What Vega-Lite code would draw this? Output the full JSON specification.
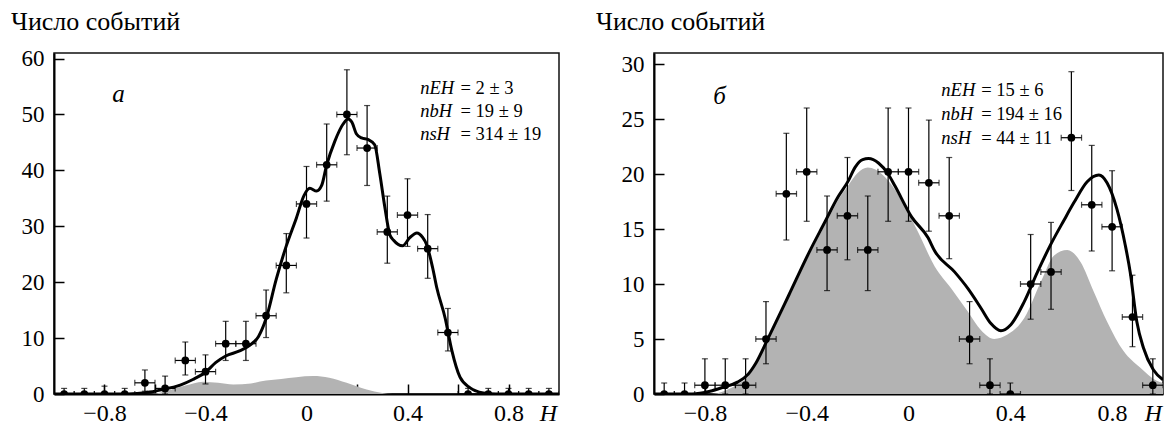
{
  "$schema": "https://vega.github.io/schema/vega-lite/v6.json",
  "padding": {"left": 10, "top": 7, "right": 0, "bottom": 0},
  "spacing": 35,
  "background": "white",
  "config": {
    "font": "Liberation Serif",
    "view": {"stroke": "#111", "strokeWidth": 1.5},
    "axis": {"grid": false, "domainColor": "black", "domainWidth": 2, "tickColor": "black", "tickWidth": 1.5, "labelColor": "black", "labelFlush": false, "labelOverlap": false, "titleColor": "black", "labelFont": "Liberation Serif", "titleFont": "Liberation Serif"},
    "text": {"font": "Liberation Serif"},
    "title": {"color": "black", "fontWeight": "normal", "fontSize": 26, "anchor": "start", "frame": "group", "font": "Liberation Serif"}
  },
  "datasets": {
    "ptsA": [
      {"H": -0.96, "h0": -1.0, "h1": -0.92, "n": 0, "lo": 0, "hi": 1.0},
      {"H": -0.88, "h0": -0.92, "h1": -0.84, "n": 0, "lo": 0, "hi": 1.0},
      {"H": -0.80, "h0": -0.84, "h1": -0.76, "n": 0, "lo": 0, "hi": 1.4},
      {"H": -0.72, "h0": -0.76, "h1": -0.68, "n": 0, "lo": 0, "hi": 1.0},
      {"H": -0.64, "h0": -0.68, "h1": -0.60, "n": 2, "lo": 0.5, "hi": 4.3},
      {"H": -0.56, "h0": -0.60, "h1": -0.52, "n": 1, "lo": 0, "hi": 3.2},
      {"H": -0.48, "h0": -0.52, "h1": -0.44, "n": 6, "lo": 3.4, "hi": 9.3},
      {"H": -0.40, "h0": -0.44, "h1": -0.36, "n": 4, "lo": 1.8, "hi": 7.0},
      {"H": -0.32, "h0": -0.36, "h1": -0.28, "n": 9, "lo": 6.0, "hi": 13.0},
      {"H": -0.24, "h0": -0.28, "h1": -0.20, "n": 9, "lo": 6.0, "hi": 13.0},
      {"H": -0.16, "h0": -0.20, "h1": -0.12, "n": 14, "lo": 10.1, "hi": 18.6},
      {"H": -0.08, "h0": -0.12, "h1": -0.04, "n": 23, "lo": 18.1, "hi": 28.7},
      {"H": 0.00, "h0": -0.04, "h1": 0.04, "n": 34, "lo": 27.9, "hi": 40.7},
      {"H": 0.08, "h0": 0.04, "h1": 0.12, "n": 41, "lo": 34.5, "hi": 48.3},
      {"H": 0.16, "h0": 0.12, "h1": 0.20, "n": 50, "lo": 42.8, "hi": 58.0},
      {"H": 0.24, "h0": 0.20, "h1": 0.28, "n": 44, "lo": 37.3, "hi": 51.6},
      {"H": 0.32, "h0": 0.28, "h1": 0.36, "n": 29, "lo": 23.4, "hi": 35.4},
      {"H": 0.40, "h0": 0.36, "h1": 0.44, "n": 32, "lo": 26.4, "hi": 38.5},
      {"H": 0.48, "h0": 0.44, "h1": 0.52, "n": 26, "lo": 20.7, "hi": 32.1},
      {"H": 0.56, "h0": 0.52, "h1": 0.60, "n": 11, "lo": 7.7, "hi": 15.3},
      {"H": 0.64, "h0": 0.60, "h1": 0.68, "n": 0, "lo": 0, "hi": 1.0},
      {"H": 0.72, "h0": 0.68, "h1": 0.76, "n": 0, "lo": 0, "hi": 1.0},
      {"H": 0.80, "h0": 0.76, "h1": 0.84, "n": 0, "lo": 0, "hi": 1.0},
      {"H": 0.88, "h0": 0.84, "h1": 0.92, "n": 0, "lo": 0, "hi": 1.0},
      {"H": 0.96, "h0": 0.92, "h1": 1.0, "n": 0, "lo": 0, "hi": 1.0}
    ],
    "curveA": [
      {"H": -1.0, "N": 0}, {"H": -0.72, "N": 0}, {"H": -0.65, "N": 0.2}, {"H": -0.6, "N": 0.5},
      {"H": -0.57, "N": 0.8}, {"H": -0.5, "N": 1.6}, {"H": -0.45, "N": 2.6}, {"H": -0.4, "N": 3.9},
      {"H": -0.36, "N": 5.6}, {"H": -0.32, "N": 6.8}, {"H": -0.265, "N": 7.7}, {"H": -0.225, "N": 8.7},
      {"H": -0.19, "N": 10.3}, {"H": -0.16, "N": 13.5}, {"H": -0.12, "N": 20.5}, {"H": -0.08, "N": 26.5},
      {"H": -0.04, "N": 31.5}, {"H": -0.01, "N": 35.5}, {"H": 0.013, "N": 36.8}, {"H": 0.04, "N": 36.3},
      {"H": 0.06, "N": 37.3}, {"H": 0.08, "N": 41}, {"H": 0.112, "N": 45.2}, {"H": 0.145, "N": 48.3},
      {"H": 0.165, "N": 49.2}, {"H": 0.18, "N": 48.6}, {"H": 0.198, "N": 46.5}, {"H": 0.218, "N": 45.8},
      {"H": 0.245, "N": 45.5}, {"H": 0.27, "N": 44.6}, {"H": 0.29, "N": 39.5}, {"H": 0.31, "N": 33.5},
      {"H": 0.33, "N": 28.5}, {"H": 0.345, "N": 27.5}, {"H": 0.38, "N": 26.5}, {"H": 0.41, "N": 28},
      {"H": 0.437, "N": 28.8}, {"H": 0.46, "N": 28}, {"H": 0.476, "N": 26.7}, {"H": 0.5, "N": 22.5},
      {"H": 0.516, "N": 19.0}, {"H": 0.549, "N": 13.6}, {"H": 0.575, "N": 7.9}, {"H": 0.608, "N": 3.0},
      {"H": 0.648, "N": 1.1}, {"H": 0.7, "N": 0.2}, {"H": 0.75, "N": 0}, {"H": 1.0, "N": 0}
    ],
    "bgA": [
      {"H": -1.0, "N": 0}, {"H": -0.62, "N": 0}, {"H": -0.55, "N": 0.6}, {"H": -0.48, "N": 1.5},
      {"H": -0.41, "N": 2.2}, {"H": -0.35, "N": 2.0}, {"H": -0.29, "N": 1.7}, {"H": -0.22, "N": 1.9},
      {"H": -0.16, "N": 2.4}, {"H": -0.1, "N": 2.7}, {"H": -0.04, "N": 3.0}, {"H": 0.026, "N": 3.2},
      {"H": 0.09, "N": 2.9}, {"H": 0.159, "N": 2.0}, {"H": 0.238, "N": 0.8}, {"H": 0.3, "N": 0.2},
      {"H": 0.34, "N": 0}, {"H": 1.0, "N": 0}
    ],
    "ptsB": [
      {"H": -0.96, "h0": -1.0, "h1": -0.92, "n": 0, "lo": 0, "hi": 1.0},
      {"H": -0.88, "h0": -0.92, "h1": -0.84, "n": 0, "lo": 0, "hi": 1.0},
      {"H": -0.80, "h0": -0.84, "h1": -0.76, "n": 0.8, "lo": 0, "hi": 3.2},
      {"H": -0.72, "h0": -0.76, "h1": -0.68, "n": 0.8, "lo": 0, "hi": 3.2},
      {"H": -0.64, "h0": -0.68, "h1": -0.60, "n": 0.8, "lo": 0, "hi": 3.2},
      {"H": -0.56, "h0": -0.60, "h1": -0.52, "n": 5.0, "lo": 2.75, "hi": 8.4},
      {"H": -0.48, "h0": -0.52, "h1": -0.44, "n": 18.2, "lo": 14.0, "hi": 23.7},
      {"H": -0.40, "h0": -0.44, "h1": -0.36, "n": 20.2, "lo": 15.7, "hi": 26.0},
      {"H": -0.32, "h0": -0.36, "h1": -0.28, "n": 13.1, "lo": 9.4, "hi": 18.0},
      {"H": -0.24, "h0": -0.28, "h1": -0.20, "n": 16.2, "lo": 12.2, "hi": 21.5},
      {"H": -0.16, "h0": -0.20, "h1": -0.12, "n": 13.1, "lo": 9.4, "hi": 18.0},
      {"H": -0.08, "h0": -0.12, "h1": -0.04, "n": 20.2, "lo": 15.7, "hi": 26.0},
      {"H": 0.00, "h0": -0.04, "h1": 0.04, "n": 20.2, "lo": 15.7, "hi": 26.0},
      {"H": 0.08, "h0": 0.04, "h1": 0.12, "n": 19.2, "lo": 14.8, "hi": 24.9},
      {"H": 0.16, "h0": 0.12, "h1": 0.20, "n": 16.2, "lo": 12.3, "hi": 21.5},
      {"H": 0.24, "h0": 0.20, "h1": 0.28, "n": 5.0, "lo": 2.75, "hi": 8.4},
      {"H": 0.32, "h0": 0.28, "h1": 0.36, "n": 0.8, "lo": 0, "hi": 3.2},
      {"H": 0.40, "h0": 0.36, "h1": 0.44, "n": 0, "lo": 0, "hi": 1.0},
      {"H": 0.48, "h0": 0.44, "h1": 0.52, "n": 10.0, "lo": 6.8, "hi": 14.5},
      {"H": 0.56, "h0": 0.52, "h1": 0.60, "n": 11.1, "lo": 7.7, "hi": 15.6},
      {"H": 0.64, "h0": 0.60, "h1": 0.68, "n": 23.3, "lo": 18.5, "hi": 29.3},
      {"H": 0.72, "h0": 0.68, "h1": 0.76, "n": 17.2, "lo": 13.0, "hi": 22.6},
      {"H": 0.80, "h0": 0.76, "h1": 0.84, "n": 15.2, "lo": 11.2, "hi": 20.3},
      {"H": 0.88, "h0": 0.84, "h1": 0.92, "n": 7.0, "lo": 4.3, "hi": 10.8},
      {"H": 0.96, "h0": 0.92, "h1": 1.0, "n": 0.8, "lo": 0, "hi": 3.2}
    ],
    "curveB": [
      {"H": -1.0, "N": 0}, {"H": -0.85, "N": 0}, {"H": -0.78, "N": 0.25}, {"H": -0.73, "N": 0.6},
      {"H": -0.67, "N": 1.1}, {"H": -0.63, "N": 1.8}, {"H": -0.6, "N": 2.8}, {"H": -0.555, "N": 4.9},
      {"H": -0.47, "N": 9.0}, {"H": -0.39, "N": 12.9}, {"H": -0.327, "N": 15.7}, {"H": -0.28, "N": 17.8},
      {"H": -0.236, "N": 19.4}, {"H": -0.21, "N": 20.6}, {"H": -0.18, "N": 21.3}, {"H": -0.157, "N": 21.4},
      {"H": -0.118, "N": 21.0}, {"H": -0.08, "N": 20.0}, {"H": -0.053, "N": 18.9}, {"H": 0.012, "N": 16.1},
      {"H": 0.077, "N": 14.2}, {"H": 0.103, "N": 13.0}, {"H": 0.181, "N": 11.1}, {"H": 0.233, "N": 9.6},
      {"H": 0.285, "N": 7.8}, {"H": 0.324, "N": 6.4}, {"H": 0.363, "N": 5.75}, {"H": 0.402, "N": 6.3},
      {"H": 0.455, "N": 8.4}, {"H": 0.507, "N": 11.1}, {"H": 0.559, "N": 13.6}, {"H": 0.611, "N": 15.8},
      {"H": 0.65, "N": 17.4}, {"H": 0.702, "N": 19.3}, {"H": 0.748, "N": 19.9}, {"H": 0.78, "N": 19.2},
      {"H": 0.819, "N": 16.8}, {"H": 0.852, "N": 13.5}, {"H": 0.871, "N": 11.1}, {"H": 0.897, "N": 6.6},
      {"H": 0.923, "N": 4.2}, {"H": 0.962, "N": 2.2}, {"H": 1.0, "N": 1.3}
    ],
    "bgB": [
      {"H": -1.0, "N": 0}, {"H": -0.78, "N": 0}, {"H": -0.72, "N": 0.3}, {"H": -0.67, "N": 0.9},
      {"H": -0.63, "N": 1.6}, {"H": -0.6, "N": 2.6}, {"H": -0.555, "N": 4.7}, {"H": -0.47, "N": 8.8},
      {"H": -0.39, "N": 12.7}, {"H": -0.327, "N": 15.4}, {"H": -0.28, "N": 17.5}, {"H": -0.236, "N": 19.0},
      {"H": -0.2, "N": 20.1}, {"H": -0.16, "N": 20.6}, {"H": -0.13, "N": 20.4}, {"H": -0.08, "N": 19.4},
      {"H": -0.027, "N": 17.6}, {"H": 0.038, "N": 14.7}, {"H": 0.103, "N": 11.6}, {"H": 0.168, "N": 9.6},
      {"H": 0.233, "N": 7.5}, {"H": 0.285, "N": 5.8}, {"H": 0.337, "N": 5.0}, {"H": 0.389, "N": 5.4},
      {"H": 0.455, "N": 6.9}, {"H": 0.52, "N": 10.2}, {"H": 0.572, "N": 12.6}, {"H": 0.624, "N": 13.1},
      {"H": 0.676, "N": 12.0}, {"H": 0.728, "N": 9.3}, {"H": 0.78, "N": 6.6}, {"H": 0.845, "N": 3.9},
      {"H": 0.91, "N": 2.4}, {"H": 0.975, "N": 1.2}, {"H": 1.0, "N": 1.0}
    ]
  },
  "hconcat": [
    {
      "width": 505,
      "height": 341,
      "title": {"text": "Число событий", "font": "Liberation Serif", "fontSize": 26, "fontWeight": "normal", "dx": -43, "offset": -8.5, "baseline": "alphabetic"},
      "layer": [
        {
          "data": {"name": "bgA"},
          "mark": {"type": "area", "color": "#b3b3b3", "interpolate": "monotone", "clip": true},
          "encoding": {
            "x": {"field": "H", "type": "quantitative", "scale": {"domain": [-1, 1], "nice": false, "zero": false},
              "axis": {"values": [-0.8, -0.6, -0.4, -0.2, 0, 0.2, 0.4, 0.6, 0.8], "format": ".1f",
                "labelExpr": "abs(round(datum.value*10)) % 4 == 0 ? (datum.value == 0 ? '0' : datum.label) : ''",
                "tickSize": -10, "labelPadding": 17, "labelFontSize": 24, "labelFont": "Liberation Serif",
                "title": "H", "titleFont": "Liberation Serif", "titleFontStyle": "italic", "titleFontWeight": "normal", "titleFontSize": 24,
                "titleX": 494, "titleY": 26, "titleAlign": "center", "titleBaseline": "alphabetic"}},
            "y": {"field": "N", "type": "quantitative", "scale": {"domain": [0, 61], "nice": false},
              "axis": {"values": [0, 10, 20, 30, 40, 50, 60], "tickSize": -10, "labelPadding": 20, "labelFontSize": 23, "labelFont": "Liberation Serif", "title": null}}
          }
        },
        {
          "data": {"name": "curveA"},
          "mark": {"type": "line", "color": "black", "strokeWidth": 3, "interpolate": "monotone", "clip": true},
          "encoding": {"x": {"field": "H", "type": "quantitative"}, "y": {"field": "N", "type": "quantitative"}}
        },
        {
          "data": {"name": "ptsA"},
          "mark": {"type": "rule", "color": "black", "strokeWidth": 1.2, "clip": true},
          "encoding": {"x": {"field": "H", "type": "quantitative"}, "y": {"field": "lo", "type": "quantitative"}, "y2": {"field": "hi"}}
        },
        {
          "data": {"name": "ptsA"},
          "mark": {"type": "rule", "color": "black", "strokeWidth": 1.2, "clip": true},
          "encoding": {"x": {"field": "h0", "type": "quantitative"}, "x2": {"field": "h1"}, "y": {"field": "n", "type": "quantitative"}}
        },
        {
          "data": {"name": "ptsA"},
          "mark": {"type": "tick", "orient": "horizontal", "color": "black", "size": 6, "thickness": 1.2, "clip": true},
          "encoding": {"x": {"field": "H", "type": "quantitative"}, "y": {"field": "hi", "type": "quantitative"}}
        },
        {
          "data": {"name": "ptsA"},
          "mark": {"type": "tick", "orient": "horizontal", "color": "black", "size": 6, "thickness": 1.2, "clip": true},
          "encoding": {"x": {"field": "H", "type": "quantitative"}, "y": {"field": "lo", "type": "quantitative"}}
        },
        {
          "data": {"name": "ptsA"},
          "mark": {"type": "tick", "orient": "vertical", "color": "black", "size": 6, "thickness": 1.2, "clip": true},
          "encoding": {"x": {"field": "h0", "type": "quantitative"}, "y": {"field": "n", "type": "quantitative"}}
        },
        {
          "data": {"name": "ptsA"},
          "mark": {"type": "tick", "orient": "vertical", "color": "black", "size": 6, "thickness": 1.2, "clip": true},
          "encoding": {"x": {"field": "h1", "type": "quantitative"}, "y": {"field": "n", "type": "quantitative"}}
        },
        {
          "data": {"name": "ptsA"},
          "mark": {"type": "point", "shape": "circle", "filled": true, "color": "black", "opacity": 1, "size": 60, "clip": true},
          "encoding": {"x": {"field": "H", "type": "quantitative"}, "y": {"field": "n", "type": "quantitative"}}
        },
        {
          "data": {"values": [{}]},
          "mark": {"type": "text", "text": "а", "font": "Liberation Serif", "fontStyle": "italic", "fontSize": 25, "align": "center", "baseline": "alphabetic", "color": "black"},
          "encoding": {"x": {"datum": -0.745, "type": "quantitative"}, "y": {"datum": 52.3, "type": "quantitative"}}
        },
        {
          "data": {"values": [{}]},
          "mark": {"type": "text", "text": ["nEH", "nbH", "nsH"], "font": "Liberation Serif", "lineHeight": 23, "fontStyle": "italic", "fontSize": 18.5, "align": "left", "baseline": "alphabetic", "color": "black"},
          "encoding": {"x": {"datum": 0.45, "type": "quantitative"}, "y": {"datum": 53.7, "type": "quantitative"}}
        },
        {
          "data": {"values": [{}]},
          "mark": {"type": "text", "text": ["= 2 ± 3", "= 19 ± 9", "= 314 ± 19"], "font": "Liberation Serif", "lineHeight": 23, "fontSize": 18.5, "align": "left", "baseline": "alphabetic", "color": "black"},
          "encoding": {"x": {"datum": 0.61, "type": "quantitative"}, "y": {"datum": 53.7, "type": "quantitative"}}
        }
      ]
    },
    {
      "width": 509,
      "height": 341,
      "title": {"text": "Число событий", "font": "Liberation Serif", "fontSize": 26, "fontWeight": "normal", "dx": -58, "offset": -2.5, "baseline": "alphabetic"},
      "layer": [
        {
          "data": {"name": "bgB"},
          "mark": {"type": "area", "color": "#b3b3b3", "interpolate": "monotone", "clip": true},
          "encoding": {
            "x": {"field": "H", "type": "quantitative", "scale": {"domain": [-1, 1], "nice": false, "zero": false},
              "axis": {"values": [-0.8, -0.6, -0.4, -0.2, 0, 0.2, 0.4, 0.6, 0.8], "format": ".1f",
                "labelExpr": "abs(round(datum.value*10)) % 4 == 0 ? (datum.value == 0 ? '0' : datum.label) : ''",
                "tickSize": -10, "labelPadding": 17, "labelFontSize": 24, "labelFont": "Liberation Serif",
                "title": "H", "titleFont": "Liberation Serif", "titleFontStyle": "italic", "titleFontWeight": "normal", "titleFontSize": 24,
                "titleX": 499, "titleY": 26, "titleAlign": "center", "titleBaseline": "alphabetic"}},
            "y": {"field": "N", "type": "quantitative", "scale": {"domain": [0, 31], "nice": false},
              "axis": {"values": [0, 5, 10, 15, 20, 25, 30], "tickSize": -10, "labelPadding": 20, "labelFontSize": 23, "labelFont": "Liberation Serif", "title": null}}
          }
        },
        {
          "data": {"name": "curveB"},
          "mark": {"type": "line", "color": "black", "strokeWidth": 3, "interpolate": "monotone", "clip": true},
          "encoding": {"x": {"field": "H", "type": "quantitative"}, "y": {"field": "N", "type": "quantitative"}}
        },
        {
          "data": {"name": "ptsB"},
          "mark": {"type": "rule", "color": "black", "strokeWidth": 1.2, "clip": true},
          "encoding": {"x": {"field": "H", "type": "quantitative"}, "y": {"field": "lo", "type": "quantitative"}, "y2": {"field": "hi"}}
        },
        {
          "data": {"name": "ptsB"},
          "mark": {"type": "rule", "color": "black", "strokeWidth": 1.2, "clip": true},
          "encoding": {"x": {"field": "h0", "type": "quantitative"}, "x2": {"field": "h1"}, "y": {"field": "n", "type": "quantitative"}}
        },
        {
          "data": {"name": "ptsB"},
          "mark": {"type": "tick", "orient": "horizontal", "color": "black", "size": 6, "thickness": 1.2, "clip": true},
          "encoding": {"x": {"field": "H", "type": "quantitative"}, "y": {"field": "hi", "type": "quantitative"}}
        },
        {
          "data": {"name": "ptsB"},
          "mark": {"type": "tick", "orient": "horizontal", "color": "black", "size": 6, "thickness": 1.2, "clip": true},
          "encoding": {"x": {"field": "H", "type": "quantitative"}, "y": {"field": "lo", "type": "quantitative"}}
        },
        {
          "data": {"name": "ptsB"},
          "mark": {"type": "tick", "orient": "vertical", "color": "black", "size": 6, "thickness": 1.2, "clip": true},
          "encoding": {"x": {"field": "h0", "type": "quantitative"}, "y": {"field": "n", "type": "quantitative"}}
        },
        {
          "data": {"name": "ptsB"},
          "mark": {"type": "tick", "orient": "vertical", "color": "black", "size": 6, "thickness": 1.2, "clip": true},
          "encoding": {"x": {"field": "h1", "type": "quantitative"}, "y": {"field": "n", "type": "quantitative"}}
        },
        {
          "data": {"name": "ptsB"},
          "mark": {"type": "point", "shape": "circle", "filled": true, "color": "black", "opacity": 1, "size": 60, "clip": true},
          "encoding": {"x": {"field": "H", "type": "quantitative"}, "y": {"field": "n", "type": "quantitative"}}
        },
        {
          "data": {"values": [{}]},
          "mark": {"type": "text", "text": "б", "font": "Liberation Serif", "fontStyle": "italic", "fontSize": 25, "align": "center", "baseline": "alphabetic", "color": "black"},
          "encoding": {"x": {"datum": -0.743, "type": "quantitative"}, "y": {"datum": 26.35, "type": "quantitative"}}
        },
        {
          "data": {"values": [{}]},
          "mark": {"type": "text", "text": ["nEH", "nbH", "nsH"], "font": "Liberation Serif", "lineHeight": 24, "fontStyle": "italic", "fontSize": 18.5, "align": "left", "baseline": "alphabetic", "color": "black"},
          "encoding": {"x": {"datum": 0.129, "type": "quantitative"}, "y": {"datum": 27.1, "type": "quantitative"}}
        },
        {
          "data": {"values": [{}]},
          "mark": {"type": "text", "text": ["= 15 ± 6", "= 194 ± 16", "= 44 ± 11"], "font": "Liberation Serif", "lineHeight": 24, "fontSize": 18.5, "align": "left", "baseline": "alphabetic", "color": "black"},
          "encoding": {"x": {"datum": 0.286, "type": "quantitative"}, "y": {"datum": 27.1, "type": "quantitative"}}
        }
      ]
    }
  ]
}
